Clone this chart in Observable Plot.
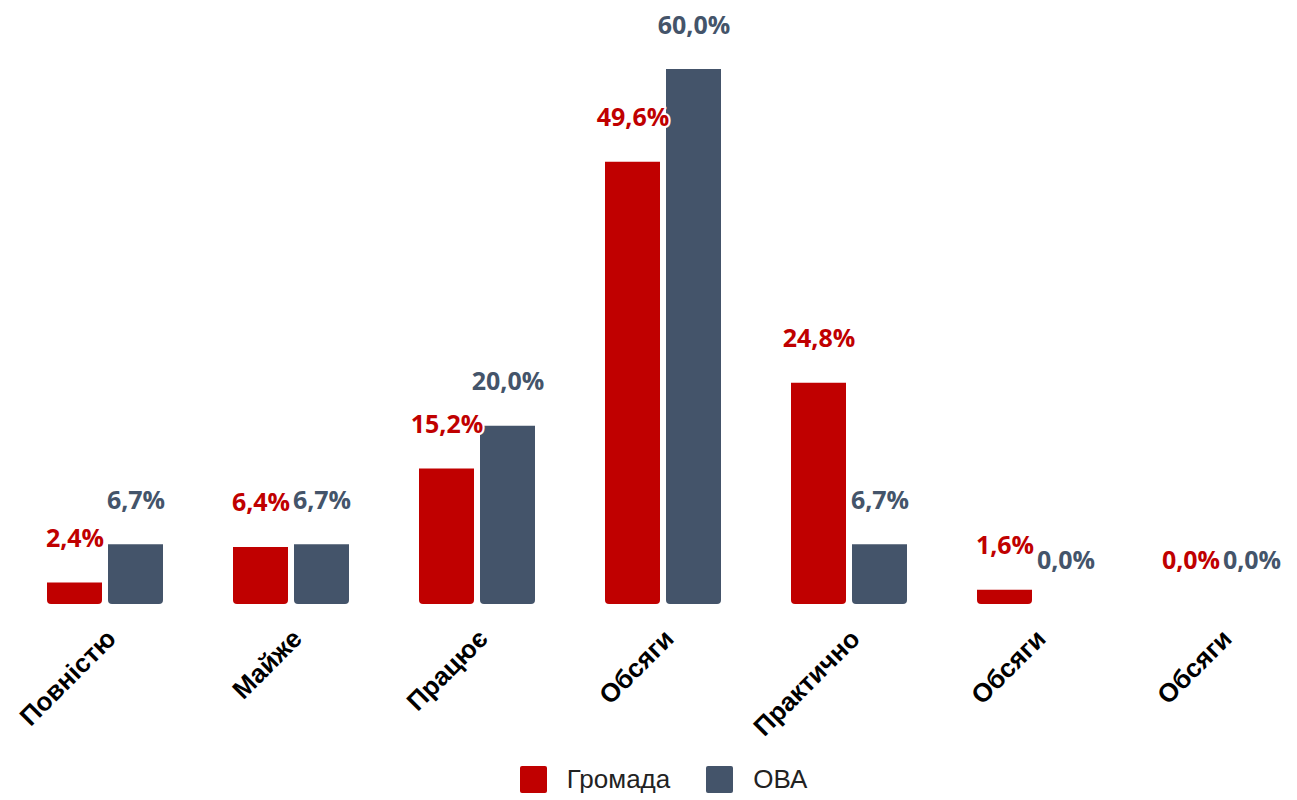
<!DOCTYPE html>
<html>
<head>
<meta charset="utf-8">
<script src="https://cdn.jsdelivr.net/npm/d3@7"></script>
<script src="https://cdn.jsdelivr.net/npm/@observablehq/plot@0.6"></script>
<style>
  html, body { margin: 0; padding: 0; background: #fff; }
  #chart { width: 1297px; }
  #chart svg { display: block; }
  .legend { width: 1297px; height: 30px; margin-top: 4px; display: flex; justify-content: center; align-items: center; font-family: "Liberation Sans", Arial, sans-serif; font-size: 26px; color: #222; padding-left: 30px; box-sizing: border-box; }
  .legend .sw { width: 27px; height: 27px; border-radius: 2px; display: inline-block; margin-right: 20px; }
  .legend .item { display: flex; align-items: center; margin: 0 18px; }
</style>
</head>
<body>
<div id="chart"></div>
<script>
const categories = ["Повністю", "Майже", "Працює", "Обсяги", "Практично", "Обсяги", "Обсяги"];
const seriesNames = ["Громада", "ОВА"];
const gromada = [2.4, 6.4, 15.2, 49.6, 24.8, 1.6, 0.0];
const ova = [6.7, 6.7, 20.0, 60.0, 6.7, 0.0, 0.0];
const colors = ["#c00000", "#44546a"];

const rows = [];
categories.forEach((c, i) => {
  rows.push({cat: i, series: seriesNames[0], value: gromada[i]});
  rows.push({cat: i, series: seriesNames[1], value: ova[i]});
});
const fmt = v => v.toFixed(1).replace(".", ",") + "%";

const plot = Plot.plot({
  width: 1297,
  height: 760,
  marginTop: 69,
  marginBottom: 156,
  marginLeft: 10,
  marginRight: 0,
  fx: {domain: d3.range(categories.length), range: [10, 1315], padding: 0, label: null, axis: null},
  x: {domain: seriesNames, paddingInner: 0.097, paddingOuter: 0.553, axis: null},
  y: {domain: [0, 60], axis: null},
  color: {domain: seriesNames, range: colors},
  marks: [
    Plot.barY(rows, {fx: "cat", x: "series", y: "value", fill: "series", rx1y2: 4, rx2y2: 4}),
    Plot.text(rows, {
      fx: "cat", x: "series", y: "value", text: d => fmt(d.value), fill: "series",
      dy: -44, fontSize: 25, fontWeight: "bold", fontFamily: "Open Sans, sans-serif",
      stroke: "white", strokeWidth: 4, lineAnchor: "middle"
    }),
    Plot.axisFx({
      anchor: "bottom", tickSize: 0, tickRotate: -45, tickPadding: 30,
      tickFormat: i => categories[i], label: null,
      fontSize: 26, fontWeight: "bold", fontFamily: "Liberation Sans, Arial, sans-serif", fill: "black", dx: 6
    })
  ],
  style: {fontFamily: "Liberation Sans, Arial, sans-serif", overflow: "visible"}
});
document.getElementById("chart").appendChild(plot);

const legend = document.createElement("div");
legend.className = "legend";
seriesNames.forEach((s, i) => {
  const item = document.createElement("div");
  item.className = "item";
  const sw = document.createElement("span");
  sw.className = "sw";
  sw.style.background = colors[i];
  item.appendChild(sw);
  item.appendChild(document.createTextNode(s));
  legend.appendChild(item);
});
document.getElementById("chart").appendChild(legend);
</script>
</body>
</html>
